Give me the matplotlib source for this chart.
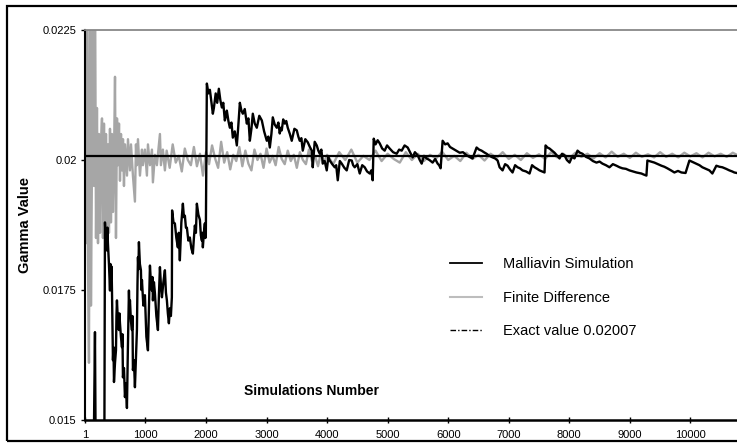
import matplotlib
matplotlib.use("Agg")
import matplotlib.pyplot as plt
from matplotlib.lines import Line2D
from matplotlib.patches import Rectangle

# Malliavin simulation estimate (running average)
malliavin_n = [
    1, 120, 150, 166, 175, 200, 320,
    331, 345, 364, 372, 380, 397, 414, 422, 430, 440,
    447, 455, 463, 472, 480, 497, 513, 521, 529, 545,
    562, 570, 579, 595, 612, 620, 628, 645, 661, 678,
    694, 710, 727, 735, 744, 760, 777, 785, 793, 810,
    826, 843, 859, 868, 876, 884, 892, 908, 925, 933,
    942, 965, 991, 1015, 1041, 1058, 1074, 1090, 1107, 1115,
    1123, 1140, 1156, 1180, 1206, 1222, 1239, 1255, 1272, 1296,
    1321, 1338, 1354, 1370, 1387, 1404, 1420, 1436, 1440, 1463,
    1486, 1510, 1535, 1550, 1568, 1593, 1618, 1635, 1651, 1668,
    1684, 1708, 1733, 1758, 1783, 1800, 1816, 1833, 1849, 1874,
    1899, 1915, 1932, 1940, 1948, 1965, 1981, 1990, 1997,
    2014, 2040, 2064, 2090, 2113, 2130, 2160, 2185, 2212, 2237, 2262, 2285,
    2311, 2330, 2344, 2370, 2394, 2420, 2443, 2475, 2509, 2530, 2559, 2585,
    2608, 2640, 2674, 2700, 2724, 2750, 2773, 2805, 2839, 2880, 2922, 2960,
    3004, 3030, 3054, 3080, 3103, 3135, 3169, 3195, 3218, 3235, 3251, 3275,
    3301, 3325, 3350, 3385, 3416, 3460, 3499, 3525, 3548, 3575, 3598, 3640,
    3681, 3715, 3747, 3763, 3795, 3829, 3855, 3879, 3905, 3928, 3960, 3994,
    4020, 4044, 4085, 4126, 4150, 4176, 4210, 4242, 4285, 4324, 4365, 4407,
    4430, 4456, 4500, 4539, 4580, 4621, 4660, 4704, 4730, 4753, 4770, 4800,
    4835, 4869, 4910, 4951, 4990, 5034, 5090, 5149, 5190, 5232, 5280, 5331,
    5370, 5413, 5450, 5496, 5530, 5562, 5600, 5644, 5690, 5743, 5785, 5826,
    5850, 5875, 5908, 5950, 5991, 6030, 6073, 6130, 6189, 6245, 6304, 6350,
    6403, 6469, 6510, 6551, 6590, 6634, 6680, 6733, 6775, 6816, 6849, 6898,
    6940, 6981, 7020, 7063, 7105, 7146, 7185, 7228, 7285, 7344, 7385, 7426,
    7470, 7509, 7550, 7591, 7608, 7640, 7674, 7715, 7756, 7800, 7839, 7880,
    7921, 7960, 8004, 8045, 8086, 8136, 8175, 8218, 8275, 8334, 8390, 8449,
    8500, 8548, 8605, 8664, 8720, 8779, 8830, 8878, 8935, 8994, 9050, 9109,
    9150, 9191, 9230, 9274, 9290, 9350, 9406, 9465, 9522, 9570, 9620, 9680,
    9736, 9795, 9852, 9920, 9984, 10040, 10099, 10150, 10198, 10255, 10314,
    10363, 10429, 10480, 10528, 10590, 10644, 10690, 10726, 10808,
]
malliavin_gamma = [
    0.0130, 0.0140, 0.0149, 0.01669, 0.0149, 0.0140, 0.0140,
    0.01880, 0.01845, 0.01826, 0.01870, 0.01840, 0.01800, 0.01749, 0.01800, 0.01770, 0.01795,
    0.01749, 0.01680, 0.01615, 0.01640, 0.01573, 0.01610, 0.01634, 0.01700, 0.01730, 0.01690,
    0.01673, 0.01705, 0.01686, 0.01660, 0.01640, 0.01665, 0.01582, 0.01600, 0.01544, 0.01570,
    0.01523, 0.01640, 0.01749, 0.01715, 0.01730, 0.01690, 0.01673, 0.01700, 0.01596, 0.01615,
    0.01563, 0.01620, 0.01673, 0.01760, 0.01813, 0.01790, 0.01842, 0.01800, 0.01788, 0.01750,
    0.01769, 0.01720, 0.01740, 0.01660, 0.01634, 0.01720, 0.01797, 0.01765, 0.01749, 0.01775,
    0.01730, 0.01765, 0.01744, 0.01700, 0.01673, 0.01740, 0.01794, 0.01760, 0.01736, 0.01765,
    0.01788, 0.01745, 0.01730, 0.01705, 0.01686, 0.01715, 0.01700, 0.01736, 0.01903, 0.01880,
    0.01878, 0.01850, 0.01832, 0.01860, 0.01807, 0.01880, 0.01916, 0.01890, 0.01893, 0.01870,
    0.01870, 0.01845, 0.01851, 0.01830, 0.01820, 0.01850, 0.01874, 0.01860, 0.01916, 0.01895,
    0.01885, 0.01855, 0.01845, 0.01860, 0.01832, 0.01860, 0.01878, 0.01850, 0.01855,
    0.02147, 0.02128, 0.02135, 0.02110, 0.02089, 0.02100, 0.02128, 0.02110,
    0.02137, 0.02115, 0.02101, 0.02110,
    0.02076, 0.02085, 0.02095, 0.02075, 0.02062, 0.02072, 0.02043, 0.02055,
    0.02028, 0.02060, 0.02110, 0.02095,
    0.02089, 0.02098, 0.02070, 0.02080, 0.02037, 0.02060, 0.02089, 0.02070,
    0.02062, 0.02085, 0.02076, 0.02055,
    0.02037, 0.02045, 0.02024, 0.02050, 0.02082, 0.02068, 0.02062, 0.02072,
    0.02051, 0.02062, 0.02057, 0.02078,
    0.02070, 0.02075, 0.02062, 0.02050, 0.02037, 0.02060, 0.02057, 0.02045,
    0.02037, 0.02042, 0.02018, 0.02040,
    0.02034, 0.02025, 0.02018, 0.01986, 0.02035, 0.02028, 0.02018, 0.02012,
    0.02020, 0.01993, 0.01998, 0.01980,
    0.02005, 0.01999, 0.01992, 0.01986, 0.01990, 0.01961, 0.01998, 0.01993,
    0.01985, 0.01980, 0.02000, 0.01999,
    0.01990, 0.01986, 0.01992, 0.01974, 0.01990, 0.01986, 0.01978, 0.01974,
    0.01980, 0.01961, 0.02041, 0.02030,
    0.02038, 0.02032, 0.02022, 0.02018, 0.02028, 0.02022, 0.02015, 0.02012,
    0.02020, 0.02018, 0.02028, 0.02024,
    0.02015, 0.02005, 0.02015, 0.02009, 0.02000, 0.01993, 0.02008, 0.02003,
    0.02000, 0.01995, 0.02002, 0.01993,
    0.01990, 0.01984, 0.02037, 0.02030, 0.02032, 0.02025, 0.02022, 0.02018,
    0.02014, 0.02015, 0.02009, 0.02006,
    0.02003, 0.02024, 0.02020, 0.02018, 0.02015, 0.02012, 0.02008, 0.02005,
    0.02003, 0.01999, 0.01986, 0.01980,
    0.01992, 0.01989, 0.01982, 0.01976, 0.01990, 0.01986, 0.01984, 0.01980,
    0.01978, 0.01974, 0.01990, 0.01986,
    0.01983, 0.01980, 0.01978, 0.01976, 0.02028, 0.02024, 0.02022, 0.02018,
    0.02014, 0.02008, 0.02003, 0.02012,
    0.02009, 0.02000, 0.01995, 0.02006, 0.02003, 0.02018, 0.02014, 0.02012,
    0.02006, 0.02003, 0.01998, 0.01995,
    0.01997, 0.01993, 0.01990, 0.01986, 0.01992, 0.01989, 0.01986, 0.01984,
    0.01983, 0.01980, 0.01978, 0.01976,
    0.01975, 0.01974, 0.01972, 0.01970, 0.01999, 0.01997, 0.01995, 0.01992,
    0.01989, 0.01987, 0.01984, 0.01980,
    0.01976, 0.01979, 0.01976, 0.01975, 0.01999, 0.01996, 0.01993, 0.01990,
    0.01986, 0.01983, 0.01980,
    0.01974, 0.01989, 0.01987, 0.01986, 0.01983, 0.01980, 0.01978, 0.01976,
    0.01974,
]

# Finite difference estimate
finite_n = [
    1, 18, 34, 51, 67, 84, 100, 117, 133, 150, 166, 183, 199, 216, 232, 249,
    265, 282, 298, 315, 332, 348, 365, 381, 397, 414, 430, 447, 463, 480, 497,
    513, 530, 546, 563, 579, 596, 612, 629, 645, 662, 695, 711, 744, 761, 793,
    826, 843, 859, 876, 909, 942, 958, 991, 1024, 1041, 1074, 1107, 1123,
    1156, 1189, 1239, 1255, 1288, 1321,
    1350, 1400, 1450, 1500, 1550, 1600, 1650, 1700, 1750, 1800, 1850, 1900,
    1950, 2000, 2050, 2100, 2150, 2200, 2250, 2300, 2350, 2400, 2450, 2500,
    2550, 2600, 2650, 2700, 2750, 2800, 2850, 2900, 2950, 3000, 3050, 3100,
    3150, 3200, 3250, 3300, 3350, 3400, 3450, 3500, 3550, 3600, 3650, 3700,
    3750, 3800, 3850, 3900, 3950, 4000,
    4100, 4200, 4300, 4400, 4500, 4600, 4700, 4800, 4900, 5000, 5100, 5200,
    5300, 5400, 5500, 5600, 5700, 5800, 5900, 6000, 6100, 6200, 6300, 6400,
    6500, 6600, 6700, 6800, 6900, 7000, 7100, 7200, 7300, 7400, 7500, 7600,
    7700, 7800, 7900, 8000, 8100, 8200, 8300, 8400, 8500, 8600, 8700, 8800,
    8900, 9000, 9100, 9200, 9300, 9400, 9500, 9600, 9700, 9800, 9900, 10000,
    10100, 10200, 10300, 10400, 10500, 10600, 10700, 10800,
]
finite_gamma = [
    0.0240, 0.0184, 0.0240, 0.0180, 0.0161, 0.0240, 0.0172, 0.0200, 0.0240,
    0.0195, 0.0240, 0.0185, 0.0210, 0.0184, 0.0205, 0.0186,
    0.0203, 0.0208, 0.0185, 0.0207, 0.0186, 0.0205, 0.0187, 0.0203, 0.0186,
    0.0206, 0.0188, 0.0205, 0.0190, 0.0200, 0.0216,
    0.0185, 0.0208, 0.0199, 0.0207, 0.0196, 0.0205, 0.0198, 0.0204, 0.0195,
    0.0203, 0.0197, 0.0204, 0.0198, 0.0203, 0.0197,
    0.0192, 0.0203, 0.0199, 0.0204, 0.0197, 0.0202, 0.0199, 0.0202, 0.0197,
    0.0203, 0.0199, 0.0202, 0.01957,
    0.0201, 0.0199, 0.0205, 0.0199, 0.0202, 0.0198,
    0.02018, 0.01985, 0.02030, 0.01995, 0.02008, 0.01978, 0.02022, 0.02000,
    0.01990, 0.02025, 0.01988, 0.02012,
    0.01970, 0.02015, 0.01992, 0.02028, 0.02003, 0.01985, 0.02035, 0.01995,
    0.02015, 0.01982, 0.02010, 0.01998,
    0.02025, 0.01988, 0.02018, 0.01993, 0.01980, 0.02020, 0.02000, 0.02012,
    0.01985, 0.02022, 0.01995, 0.02008,
    0.01990, 0.02025, 0.02002, 0.01992, 0.02018, 0.01998, 0.02010, 0.01985,
    0.02015, 0.02000, 0.01992, 0.02020,
    0.01998, 0.02008, 0.01988, 0.02015, 0.01995, 0.02010,
    0.01992, 0.02015, 0.02000, 0.02020, 0.01995, 0.02008, 0.02000, 0.02018,
    0.01998, 0.02012, 0.02002, 0.01995,
    0.02015, 0.02000, 0.02012, 0.01998, 0.02010, 0.02003, 0.02016, 0.02000,
    0.02008, 0.01998, 0.02014, 0.02002,
    0.02010, 0.01999, 0.02012, 0.02004, 0.02015, 0.02002, 0.02010, 0.02000,
    0.02013, 0.02004, 0.02011, 0.02002,
    0.02015, 0.02005, 0.02012, 0.02003, 0.02014, 0.02006, 0.02012, 0.02003,
    0.02013, 0.02005, 0.02016, 0.02006,
    0.02012, 0.02004, 0.02014, 0.02006, 0.02011, 0.02005, 0.02015, 0.02006,
    0.02012, 0.02005, 0.02014, 0.02007,
    0.02013, 0.02005, 0.02014, 0.02007, 0.02012, 0.02006, 0.02014, 0.02008,
]

exact_value = 0.02007

x_ticks = [1, 1000, 2000, 3000, 4000, 5000, 6000, 7000, 8000, 9000, 10000]
y_ticks = [0.015, 0.0175, 0.02, 0.0225]
y_tick_labels = ["0.015", "0.0175", "0.02", "0.0225"]


def plot_data():
    plt.rcParams["font.family"] = ["Liberation Sans", "DejaVu Sans"]

    fig = plt.figure(figsize=(7.37, 4.47), dpi=100)
    ax = fig.add_axes([0.1153, 0.0604, 0.8847, 0.8725])

    # outer chart frame (right edge runs off the picture)
    fig.patches.append(Rectangle((0.0095, 0.0134), 1.0, 0.9732,
                                 transform=fig.transFigure, fill=False,
                                 edgecolor="black", linewidth=1.6))

    ax.plot(finite_n, finite_gamma, color="#a6a6a6", linewidth=1.7)
    ax.plot(malliavin_n, malliavin_gamma, color="black", linewidth=1.7)
    ax.axhline(exact_value, color="black", linewidth=1.6)

    ax.set_xlim(1, 10770)
    ax.set_ylim(0.015, 0.0225)
    ax.set_xticks(x_ticks)
    ax.set_xticklabels([str(t) for t in x_ticks], fontsize=8)
    ax.set_yticks(y_ticks)
    ax.set_yticklabels(y_tick_labels, fontsize=8)
    ax.tick_params(axis="y", direction="out", length=3, width=1, pad=3)
    ax.tick_params(axis="x", direction="inout", length=4, width=1, pad=5)

    ax.spines["right"].set_visible(False)
    ax.spines["top"].set_color("#888888")
    ax.spines["top"].set_linewidth(1.3)
    ax.spines["left"].set_linewidth(1.5)
    ax.spines["bottom"].set_linewidth(1.8)

    ax.text(0.348, 0.075, "Simulations Number", transform=ax.transAxes,
            ha="center", va="center", fontsize=10, fontweight="bold")
    fig.text(0.034, 0.497, "Gamma Value", rotation=90, ha="center",
             va="center", fontsize=10.5, fontweight="bold")

    handles = [
        Line2D([], [], color="black", linewidth=1.3),
        Line2D([], [], color="#bdbdbd", linewidth=1.5),
        Line2D([], [], color="black", linewidth=1.0, linestyle=(0, (4, 1.5, 1, 1.5))),
    ]
    labels = ["Malliavin Simulation", "Finite Difference", "Exact value 0.02007"]
    ax.legend(handles, labels, loc="upper left",
              bbox_to_anchor=(0.6106, 0.425), bbox_transform=fig.transFigure,
              frameon=False, fontsize=10.5, handlelength=2.2,
              handletextpad=1.4, labelspacing=1.35, borderpad=0,
              borderaxespad=0)

    fig.savefig("out.png", dpi=100)


def main():
    plot_data()


if __name__ == "__main__":
    main()
